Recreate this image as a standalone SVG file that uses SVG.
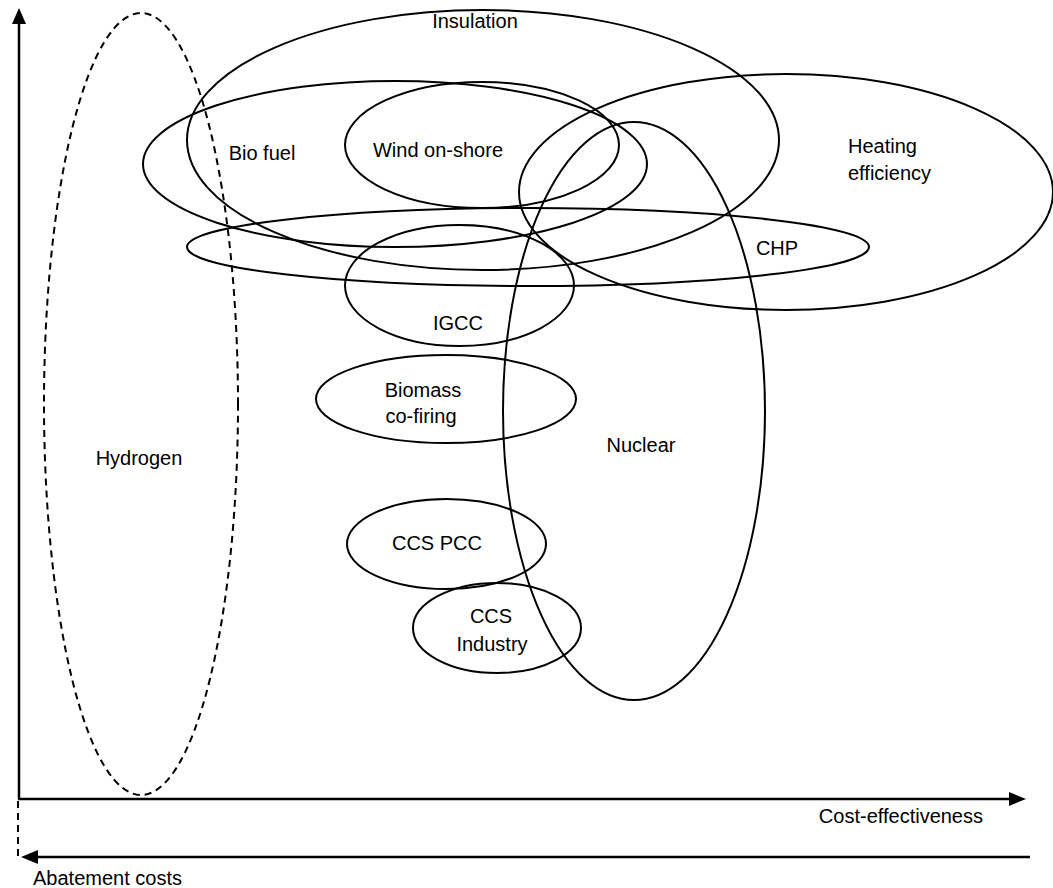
<svg xmlns="http://www.w3.org/2000/svg" width="1053" height="888" viewBox="0 0 1053 888">
<style>
.e{fill:none;stroke:#000;stroke-width:2}
.d{fill:none;stroke:#000;stroke-width:2;stroke-dasharray:7 5}
.ax{fill:none;stroke:#000;stroke-width:2.5}
text{font-family:"Liberation Sans",Arial,sans-serif;font-size:20px;fill:#000}
.m{text-anchor:middle}
</style>
<rect width="1053" height="888" fill="#fff"/>
<g id="hydrogen"><ellipse class="d" cx="141" cy="404" rx="97" ry="391"/><text class="m" x="139" y="465">Hydrogen</text></g>
<g id="insulation"><ellipse class="e" cx="483" cy="140" rx="296" ry="130"/><text class="m" x="475" y="28">Insulation</text></g>
<g id="biofuel"><ellipse class="e" cx="395" cy="164" rx="252" ry="83"/><text class="m" x="262" y="160">Bio fuel</text></g>
<g id="wind"><ellipse class="e" cx="482" cy="145" rx="137" ry="63"/><text class="m" x="438" y="157">Wind on-shore</text></g>
<g id="heating"><ellipse class="e" cx="786" cy="192" rx="267" ry="118"/><text x="848" y="153">Heating</text><text x="848" y="180">efficiency</text></g>
<g id="chp"><ellipse class="e" cx="528" cy="247" rx="341" ry="39"/><text class="m" x="777" y="255">CHP</text></g>
<g id="igcc"><ellipse class="e" cx="459.5" cy="285.5" rx="114.5" ry="60.5"/><text class="m" x="458" y="330">IGCC</text></g>
<g id="biomass"><ellipse class="e" cx="446" cy="399" rx="130" ry="44"/><text class="m" x="423" y="397">Biomass</text><text class="m" x="421" y="423">co-firing</text></g>
<g id="nuclear"><ellipse class="e" cx="634" cy="411" rx="131" ry="289"/><text class="m" x="641" y="452">Nuclear</text></g>
<g id="ccspcc"><ellipse class="e" cx="446.5" cy="544" rx="99.5" ry="45"/><text class="m" x="437" y="550">CCS PCC</text></g>
<g id="ccsindustry"><ellipse class="e" cx="497" cy="628" rx="84" ry="45"/><text class="m" x="491" y="623">CCS</text><text class="m" x="492" y="651">Industry</text></g>
<g id="connectors">
<line class="ax" x1="19" y1="799" x2="19" y2="22"/>
<path d="M19,8 L26,24 L12,24 z"/>
<line class="ax" x1="18" y1="799" x2="1010" y2="799"/>
<path d="M1026,799 L1009,792 L1009,806 z"/>
<line class="d" x1="18" y1="801" x2="18" y2="857"/>
<line class="ax" x1="1030" y1="857" x2="36" y2="857"/>
<path d="M21,857 L38,850 L38,864 z"/>
</g>
<text x="983" y="823" text-anchor="end">Cost-effectiveness</text>
<text x="33" y="885">Abatement costs</text>
</svg>
